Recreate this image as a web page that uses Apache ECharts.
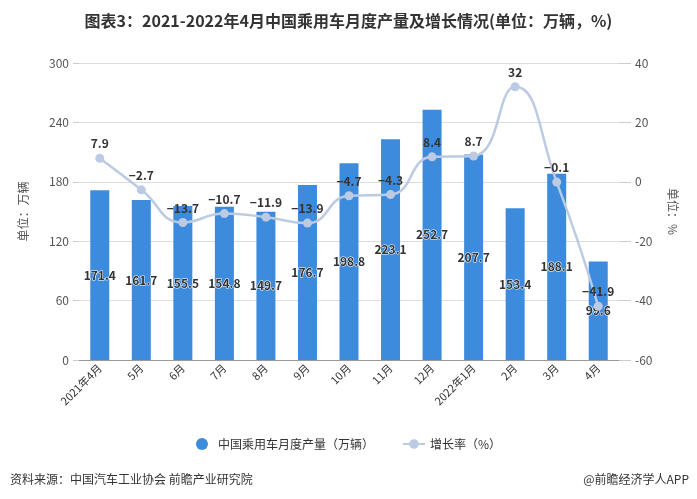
<!DOCTYPE html>
<html><head><meta charset="utf-8">
<script src="https://cdn.jsdelivr.net/npm/echarts@6/dist/echarts.min.js"></script>
<style>html,body{margin:0;padding:0;background:#fff}#c{width:697px;height:499px}</style>
</head><body><div id="c"></div>
<script>
const categories = ['2021年4月','5月','6月','7月','8月','9月','10月','11月','12月','2022年1月','2月','3月','4月'];
const production = [171.4,161.7,155.5,154.8,149.7,176.7,198.8,223.1,252.7,207.7,153.4,188.1,99.6];
const growth = [7.9,-2.7,-13.7,-10.7,-11.9,-13.9,-4.7,-4.3,8.4,8.7,32,-0.1,-41.9];
const leftTicks = {min:0,max:300,interval:60};
const rightTicks = {min:-60,max:40,interval:20};

const font = 'Microsoft YaHei, "Noto Sans CJK SC", sans-serif';
const chart = echarts.init(document.getElementById('c'));
const fmt = v => String(v).replace('-', '\u2212');
chart.setOption({
  animation:false,
  textStyle:{fontFamily:font},
  title:[
    {text:'图表3：2021-2022年4月中国乘用车月度产量及增长情况(单位：万辆，%)',left:'center',top:8,
     textStyle:{fontSize:16,fontWeight:'bold',color:'#333',fontFamily:font}},
    {text:'资料来源：中国汽车工业协会 前瞻产业研究院',left:5,top:468,textStyle:{fontSize:12,fontWeight:'normal',color:'#333',fontFamily:font}},
    {text:'@前瞻经济学人APP',right:3,top:468,textStyle:{fontSize:12,fontWeight:'normal',color:'#333',fontFamily:font}}
  ],
  legend:{top:433,left:'center',itemGap:28,textStyle:{fontSize:12,color:'#333'},
    data:[{name:'中国乘用车月度产量（万辆）',icon:'circle'},{name:'增长率（%）'}],itemWidth:22,itemHeight:12},
  grid:{left:79,right:78,top:63,bottom:139},
  xAxis:{type:'category',data:categories,
    axisLine:{lineStyle:{color:'#999'}},
    axisTick:{alignWithLabel:true,length:4,lineStyle:{color:'#999'}},
    axisLabel:{rotate:45,fontSize:11,color:'#333',margin:6}},
  yAxis:[
    {type:'value',min:leftTicks.min,max:leftTicks.max,interval:leftTicks.interval,
     name:'单位：万辆',nameLocation:'middle',nameGap:50,nameTextStyle:{fontSize:12,color:'#555'},
     axisLine:{show:false},axisTick:{show:true,length:6,lineStyle:{color:'#ccc'}},
     axisLabel:{fontSize:12,color:'#555',margin:10},splitLine:{lineStyle:{color:'#ddd'}}},
    {type:'value',min:rightTicks.min,max:rightTicks.max,interval:rightTicks.interval,position:'right',
     name:'单位：%',nameLocation:'middle',nameGap:48,nameRotate:-90,nameTextStyle:{fontSize:12,color:'#555'},
     axisLine:{show:false},axisTick:{show:true,length:12,lineStyle:{color:'#ccc'}},
     axisLabel:{fontSize:12,color:'#555',margin:16},splitLine:{show:false}}
  ],
  series:[
    {name:'中国乘用车月度产量（万辆）',type:'bar',data:production,barWidth:19,yAxisIndex:0,
     itemStyle:{color:'#3d8bdc'},
     label:{show:true,position:'inside',fontSize:12,fontWeight:'bold',color:'#333',textBorderColor:'#fff',textBorderWidth:1}},
    {name:'增长率（%）',type:'line',data:growth,yAxisIndex:1,smooth:true,
     symbol:'circle',symbolSize:9,
     lineStyle:{color:'#bccbe3',width:2.5},itemStyle:{color:'#bccbe3'},
     label:{show:true,position:'top',fontSize:12,fontWeight:'bold',color:'#333',distance:4,formatter:p=>fmt(p.value)}}
  ]
});
</script></body></html>
